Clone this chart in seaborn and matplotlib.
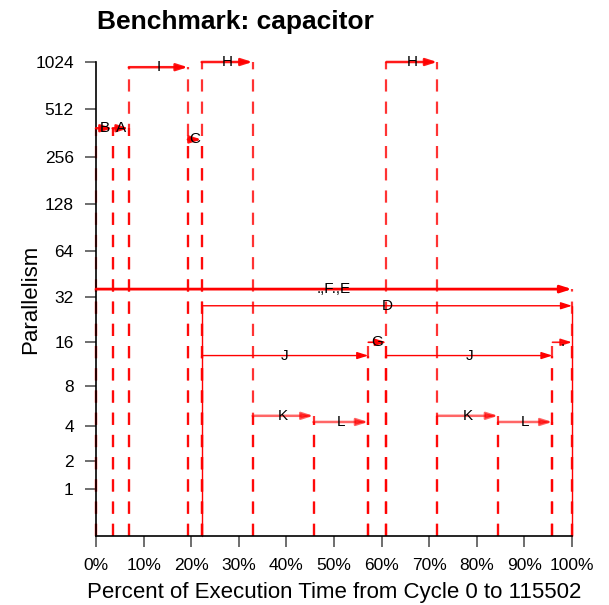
import numpy as np
import pandas as pd
import matplotlib
matplotlib.use("Agg")
import matplotlib.pyplot as plt
import seaborn as sns

# ---- data ----
seg_labels = ["B", "A", "I", "C", "H", ".,F.,E", "D", "J", "K", "L", "G", "H", "J", "K", "L", "."]
seg_start = [0.0, 3.5, 6.9, 19.3, 22.2, 0.0, 22.2, 22.2, 32.9, 45.7, 57.2, 61.0, 61.0, 71.7, 84.5, 95.9]
seg_end = [3.5, 6.9, 19.3, 22.2, 32.9, 100.0, 100.0, 57.2, 45.7, 57.2, 61.0, 71.7, 95.9, 84.5, 95.9, 100.0]
seg_par = [388, 388, 949, 329, 1024, 36, 28, 13, 4.8, 4.3, 16, 1024, 13, 4.8, 4.3, 16]

y_ticks = [1, 2, 4, 8, 16, 32, 64, 128, 256, 512, 1024]
x_ticks = [0, 10, 20, 30, 40, 50, 60, 70, 80, 90, 100]

title = "Benchmark: capacitor"
x_label = "Percent of Execution Time from Cycle 0 to 115502"
y_label = "Parallelism"

# ---- styling ----
sns.set_theme(style="ticks")
plt.rcParams["font.family"] = ["Liberation Sans", "DejaVu Sans"]
plt.rcParams["text.color"] = "black"
plt.rcParams["axes.labelcolor"] = "black"

# line width / alpha per segment label (style only)
line_style = {
    ".,F.,E": (2.0, 1.0),
    "D": (1.0, 1.0),
    "J": (1.0, 1.0),
    "G": (1.2, 1.0),
    ".": (1.2, 0.9),
    "K": (1.8, 0.6),
    "L": (1.8, 0.6),
}
solid_drop_labels = {"D"}

df = pd.DataFrame({"label": seg_labels, "start": seg_start, "end": seg_end, "par": seg_par})
df["seg"] = range(len(df))

fig = plt.figure(figsize=(6.09, 6.05), dpi=100)
ax = fig.add_axes([96 / 609, 1 - 536 / 605, (572 - 96) / 609, (536 - 62) / 605])
ax.set_yscale("function", functions=(np.log1p, np.expm1))
ax.set_xlim(0, 100)
ax.set_ylim(0, 1024)

# vertical drops from each segment end point down to zero (drawn bottom-up)
drops = []
for _, r in df.iterrows():
    kind = "solid" if r["label"] in solid_drop_labels else "dashed"
    for xv in (r["start"], r["end"]):
        key = f"{r['seg']}_{xv}"
        drops.append({"seg": key, "x": xv, "y": 0.0, "kind": kind})
        drops.append({"seg": key, "x": xv, "y": r["par"], "kind": kind})
drops = pd.DataFrame(drops)

dashed = drops[drops["kind"] == "dashed"]
solid = drops[drops["kind"] == "solid"]
n0 = len(ax.get_lines())
sns.lineplot(data=dashed, x="x", y="y", units="seg", estimator=None, sort=False,
             color="#ff0000", lw=1.6, alpha=0.8, ax=ax, legend=False)
for ln in ax.get_lines()[n0:]:
    ln.set_linestyle((0, (5.5, 4.5)))
    ln.set_clip_on(False)
n1 = len(ax.get_lines())
sns.lineplot(data=solid, x="x", y="y", units="seg", estimator=None, sort=False,
             color="#ff0000", lw=1.0, alpha=1.0, ax=ax, legend=False)
for ln in ax.get_lines()[n1:]:
    ln.set_clip_on(False)

# horizontal arrows with labels
for _, r in df.iterrows():
    lw, al = line_style.get(r["label"], (1.8, 0.9))
    ax.annotate("", xy=(r["end"], r["par"]), xytext=(r["start"], r["par"]),
                arrowprops=dict(arrowstyle="-|>,head_length=1.1,head_width=0.35",
                                color="#ff0000", lw=lw, alpha=al,
                                shrinkA=0, shrinkB=0, mutation_scale=6),
                annotation_clip=False)
    ax.text((r["start"] + r["end"]) / 2, r["par"], r["label"], ha="center",
            va="center", fontsize=11, color="black", clip_on=False)

ax.set_yticks(y_ticks)
ax.set_yticklabels([str(v) for v in y_ticks])
ax.minorticks_off()
ax.set_xticks(x_ticks)
ax.set_xticklabels([f"{v}%" for v in x_ticks])
ax.tick_params(axis="both", length=8, width=1.2, color="#555555", labelsize=12.5,
               labelcolor="black")
ax.tick_params(axis="y", pad=8)
ax.tick_params(axis="x", pad=8)

ax.set_xlabel(x_label, fontsize=16, labelpad=6)
ax.set_ylabel(y_label, fontsize=16, labelpad=-4)
ax.grid(False)
sns.despine(ax=ax)
for s in ("left", "bottom"):
    ax.spines[s].set_color("black")
    ax.spines[s].set_linewidth(1.2)

fig.text(97 / 609, 1 - 22 / 605, title, fontsize=19, fontweight="bold",
         ha="left", va="center", color="black")

fig.savefig("out.png", dpi=100)
